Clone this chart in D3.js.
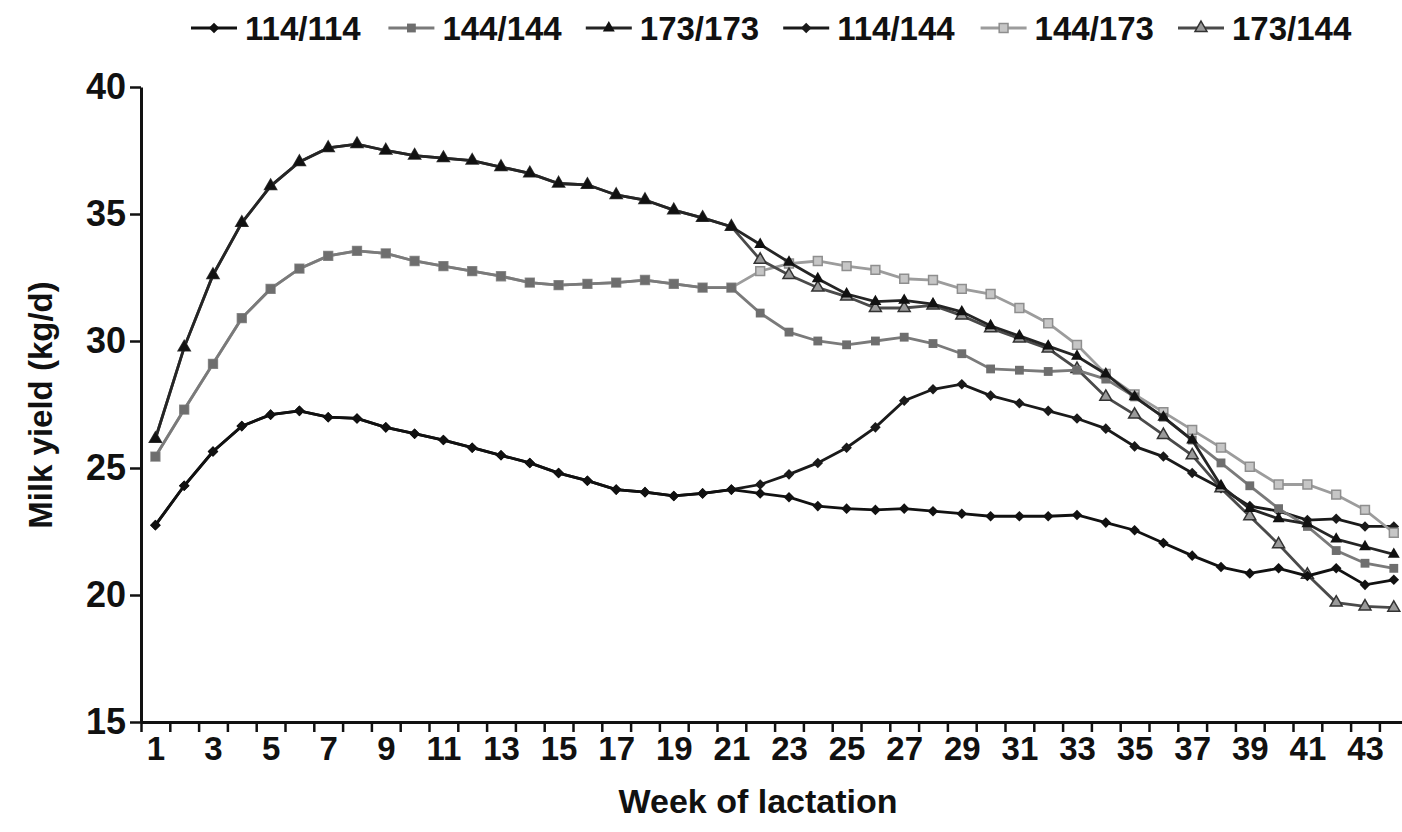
<!DOCTYPE html>
<html>
<head>
<meta charset="utf-8">
<script src="https://cdn.jsdelivr.net/npm/d3@7"></script>
<style>
  html, body { margin: 0; padding: 0; background: #fff; }
  svg { display: block; font-family: "Liberation Sans", Arial, sans-serif; font-weight: bold; }
</style>
</head>
<body>
<svg id="chart" width="1402" height="832"></svg>
<script>
// weeks of lactation (categories)
const weeks = d3.range(1, 45);
const weekLabels = d3.range(1, 45, 2);
const yTicks = [15, 20, 25, 30, 35, 40];

// weeks 1-21: groups share the same pre-switch curve
const early114 = [22.75, 24.3, 25.65, 26.65, 27.1, 27.25, 27.0, 26.95, 26.6, 26.35, 26.1, 25.8, 25.5, 25.2, 24.8, 24.5, 24.15, 24.05, 23.9, 24.0, 24.15];
const early144 = [25.45, 27.3, 29.1, 30.9, 32.05, 32.85, 33.35, 33.55, 33.45, 33.15, 32.95, 32.75, 32.55, 32.3, 32.2, 32.25, 32.3, 32.4, 32.25, 32.1, 32.1];
const early173 = [26.15, 29.75, 32.6, 34.65, 36.1, 37.05, 37.6, 37.75, 37.5, 37.3, 37.2, 37.1, 36.85, 36.6, 36.2, 36.15, 35.75, 35.55, 35.15, 34.85, 34.5];

// weeks 22-44
const late114_114 = [24.0, 23.85, 23.5, 23.4, 23.35, 23.4, 23.3, 23.2, 23.1, 23.1, 23.1, 23.15, 22.85, 22.55, 22.05, 21.55, 21.1, 20.85, 21.05, 20.75, 21.05, 20.4, 20.6];
const late144_144 = [31.1, 30.35, 30.0, 29.85, 30.0, 30.15, 29.9, 29.5, 28.9, 28.85, 28.8, 28.85, 28.5, 27.8, 27.0, 26.1, 25.2, 24.3, 23.4, 22.7, 21.75, 21.25, 21.05];
const late173_173 = [33.8, 33.1, 32.45, 31.85, 31.55, 31.6, 31.45, 31.15, 30.6, 30.2, 29.8, 29.4, 28.7, 27.8, 27.0, 26.1, 24.3, 23.4, 23.0, 22.8, 22.2, 21.9, 21.6];
const late114_144 = [24.35, 24.75, 25.2, 25.8, 26.6, 27.65, 28.1, 28.3, 27.85, 27.55, 27.25, 26.95, 26.55, 25.85, 25.45, 24.8, 24.2, 23.5, 23.3, 22.95, 23.0, 22.7, 22.7];
const late144_173 = [32.75, 33.05, 33.15, 32.95, 32.8, 32.45, 32.4, 32.05, 31.85, 31.3, 30.7, 29.85, 28.7, 27.9, 27.2, 26.5, 25.8, 25.05, 24.35, 24.35, 23.95, 23.35, 22.45];
const late173_144 = [33.2, 32.6, 32.1, 31.75, 31.3, 31.3, 31.4, 31.0, 30.5, 30.1, 29.7, 28.9, 27.8, 27.1, 26.3, 25.5, 24.2, 23.1, 22.0, 20.8, 19.7, 19.55, 19.5];

const seriesNames = ['114/114', '144/144', '173/173', '114/144', '144/173', '173/144'];
const seriesValues = [
  early114.concat(late114_114),
  early144.concat(late144_144),
  early173.concat(late173_173),
  early114.concat(late114_144),
  early144.concat(late144_173),
  early173.concat(late173_144)
];

// look of each series
const styles = {
  '114/114': { line: '#111', shape: 'diamond', fill: '#111', stroke: 'none' },
  '144/144': { line: '#7a7a7a', shape: 'square', fill: '#6e6e6e', stroke: 'none' },
  '173/173': { line: '#252525', shape: 'triangle', fill: '#111', stroke: 'none' },
  '114/144': { line: '#1a1a1a', shape: 'diamond', fill: '#1a1a1a', stroke: 'none' },
  '144/173': { line: '#9c9c9c', shape: 'square', fill: '#c6c6c6', stroke: '#8e8e8e' },
  '173/144': { line: '#4a4a4a', shape: 'triangle', fill: '#9a9a9a', stroke: '#333' }
};

const svg = d3.select('#chart');
const plotLeft = 141, plotTop = 87, plotBottom = 722, step = 28.8;

const x = d3.scaleLinear().domain([0.5, 44.5]).range([plotLeft, plotLeft + 44 * step]);
const y = d3.scaleLinear().domain([15, 40]).range([plotBottom, plotTop]);

function symbolPath(shape) {
  if (shape === 'diamond') return d3.symbol(d3.symbolSquare, 56)();
  if (shape === 'square') return d3.symbol(d3.symbolSquare, 78)();
  return d3.symbol(d3.symbolTriangle, 62)();
}

// x axis: ticks between weeks, labels on odd weeks
const xAxis = svg.append('g')
  .attr('transform', `translate(0,${plotBottom})`)
  .call(d3.axisBottom(x).tickValues(d3.range(0.5, 45, 1)).tickSize(10).tickSizeOuter(0).tickFormat(''));
xAxis.select('.domain').attr('stroke', '#111').attr('stroke-width', 3);
xAxis.selectAll('.tick line').attr('stroke', '#111').attr('stroke-width', 2.5);

const xLab = svg.append('g')
  .attr('transform', `translate(0,${plotBottom})`)
  .call(d3.axisBottom(x).tickValues(weekLabels).tickSize(0).tickPadding(15));
xLab.select('.domain').remove();
xLab.selectAll('text').attr('font-size', 33).attr('font-family', null).attr('fill', '#111');

// y axis
const yAxis = svg.append('g')
  .attr('transform', `translate(${plotLeft},0)`)
  .call(d3.axisLeft(y).tickValues(yTicks).tickSize(11).tickSizeOuter(0).tickPadding(4));
yAxis.select('.domain').attr('stroke', '#111').attr('stroke-width', 3);
yAxis.selectAll('.tick line').attr('stroke', '#111').attr('stroke-width', 2.5);
yAxis.selectAll('text').attr('font-size', 36).attr('font-family', null).attr('fill', '#111');

// axis titles
svg.append('text')
  .attr('transform', 'translate(52,405) rotate(-90)')
  .attr('text-anchor', 'middle')
  .attr('font-size', 33)
  .attr('fill', '#111')
  .text('Milk yield (kg/d)');

svg.append('text')
  .attr('x', 758).attr('y', 813)
  .attr('text-anchor', 'middle')
  .attr('font-size', 34)
  .attr('fill', '#111')
  .text('Week of lactation');

// series: switched groups first, so the original groups sit on top of the shared weeks
const line = d3.line().x(d => x(d.week)).y(d => y(d.value));
const drawOrder = [3, 4, 5, 0, 1, 2];

drawOrder.forEach(i => {
  const name = seriesNames[i];
  const st = styles[name];
  const pts = weeks.map((w, j) => ({ week: w, value: seriesValues[i][j] }));
  const g = svg.append('g');
  g.append('path')
    .datum(pts)
    .attr('d', line)
    .attr('fill', 'none')
    .attr('stroke', st.line)
    .attr('stroke-width', 2.8);
  g.selectAll('path.mk')
    .data(pts)
    .join('path')
    .attr('class', 'mk')
    .attr('d', symbolPath(st.shape))
    .attr('transform', d => `translate(${x(d.week)},${y(d.value)})` + (st.shape === 'diamond' ? ' rotate(45)' : ''))
    .attr('fill', st.fill)
    .attr('stroke', st.stroke)
    .attr('stroke-width', 1.5);
});

// legend
const legend = svg.append('g');
seriesNames.forEach((name, i) => {
  const st = styles[name];
  const x0 = 191 + i * 197.4;
  const item = legend.append('g').attr('transform', `translate(${x0},28)`);
  item.append('line')
    .attr('x1', 0).attr('x2', 46)
    .attr('stroke', st.line).attr('stroke-width', 3);
  item.append('path')
    .attr('d', symbolPath(st.shape))
    .attr('transform', 'translate(23,0)' + (st.shape === 'diamond' ? ' rotate(45)' : ''))
    .attr('fill', st.fill)
    .attr('stroke', st.stroke)
    .attr('stroke-width', 1.5);
  item.append('text')
    .attr('x', 54).attr('y', 12)
    .attr('font-size', 33)
    .attr('fill', '#111')
    .text(name);
});
</script>
</body>
</html>
